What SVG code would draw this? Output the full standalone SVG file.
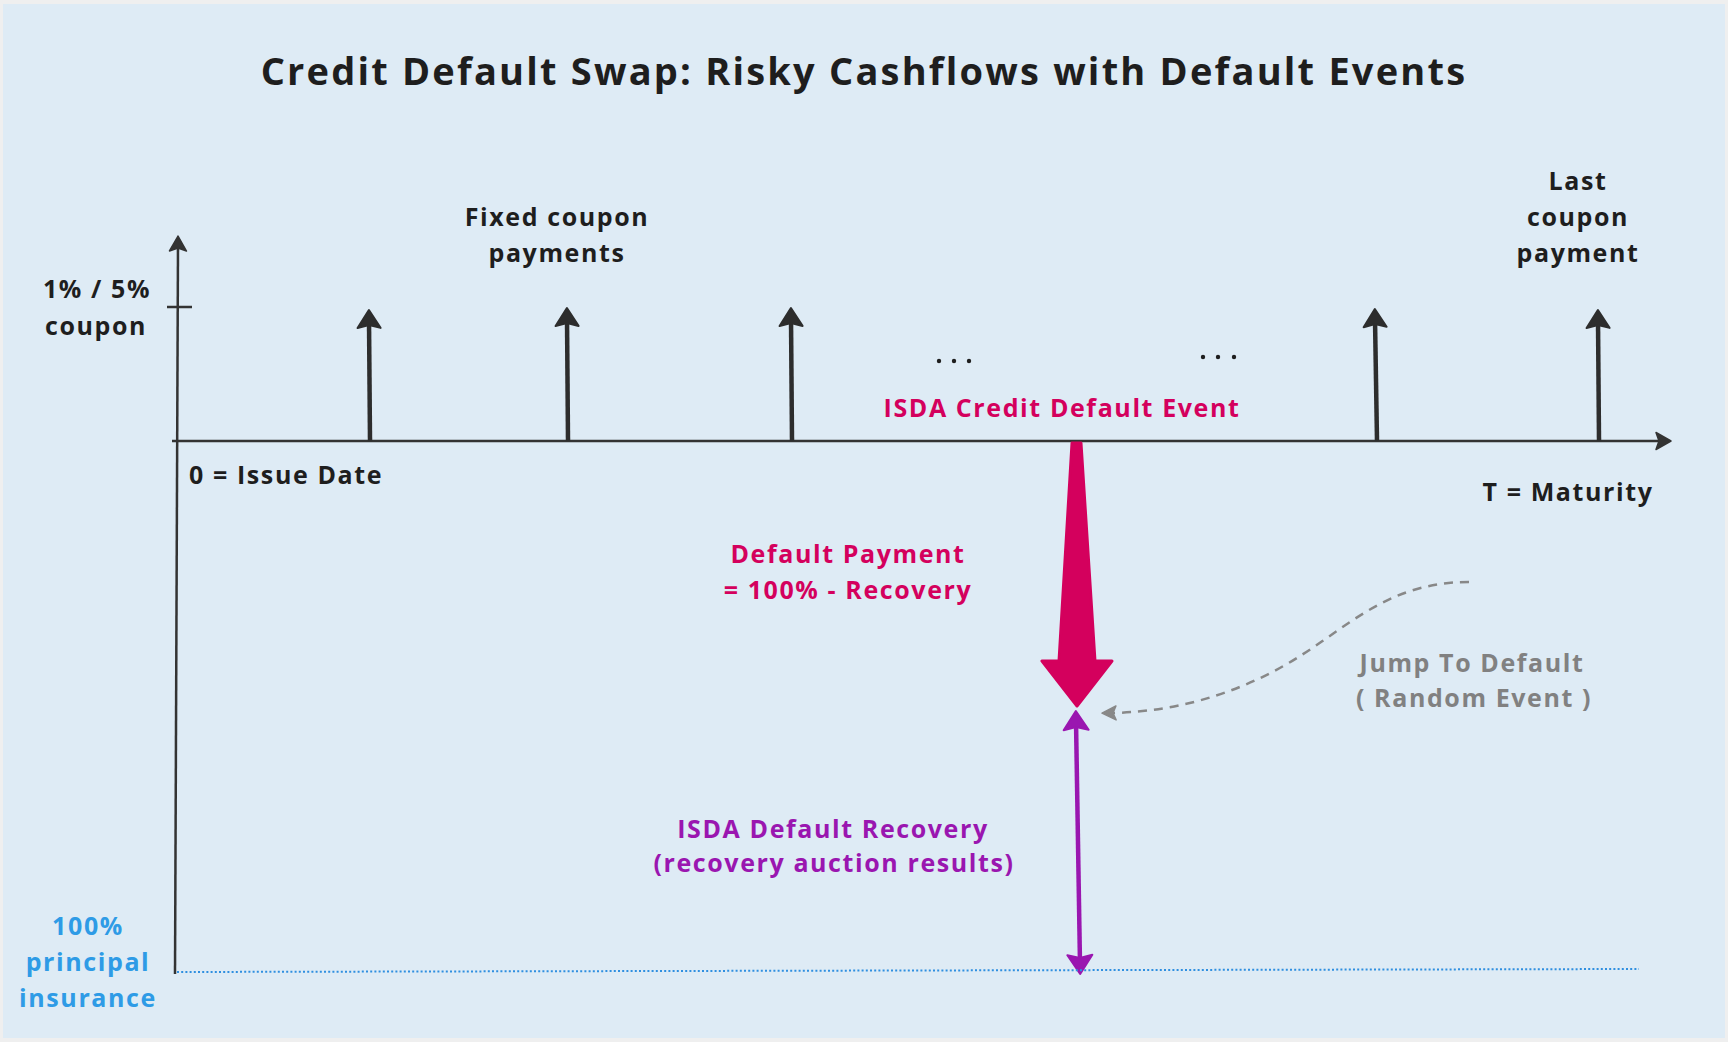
<svg xmlns="http://www.w3.org/2000/svg" width="1728" height="1042" viewBox="0 0 1728 1042">
<defs>
<style>
text{font-family:"Open Sans","Liberation Sans",sans-serif;font-weight:700;text-anchor:middle}
.t,.red,.pur,.gry,.blu{font-size:25px;letter-spacing:1.6px}
.t{fill:#1e1e1e}
.title{font-size:38px;fill:#1e1e1e;letter-spacing:2.2px}
.red{fill:#d4005d}
.pur{fill:#9a16b0}
.gry{fill:#818181}
.blu{fill:#2e9be6}
.axis{stroke:#333;stroke-width:2.5;fill:none}
.cp{stroke:#2d2d2d;stroke-width:4.5;fill:none}
</style>
<marker id="ah" viewBox="-8 -10 18 20" markerWidth="18" markerHeight="20" refX="0" refY="0" markerUnits="userSpaceOnUse" orient="auto">
<path d="M8,0 L-7,-8.5 L-4,0 L-7,8.5 Z" fill="#333" stroke="#333" stroke-width="1.5" stroke-linejoin="round"/>
</marker>
<marker id="ch" viewBox="-12 -14 24 28" markerWidth="24" markerHeight="28" refX="0" refY="0" markerUnits="userSpaceOnUse" orient="auto">
<path d="M10,0 L-8,-11.5 L-5,0 L-8,11.5 Z" fill="#2d2d2d" stroke="#2d2d2d" stroke-width="2" stroke-linejoin="round"/>
</marker>
<marker id="ph" viewBox="-12 -16 24 32" markerWidth="24" markerHeight="32" refX="0" refY="0" markerUnits="userSpaceOnUse" orient="auto-start-reverse">
<path d="M10,0 L-9,-12.5 L-6,0 L-9,12.5 Z" fill="#9a16b0" stroke="#9a16b0" stroke-width="2" stroke-linejoin="round"/>
</marker>
<marker id="gh" viewBox="-10 -10 20 20" markerWidth="20" markerHeight="20" refX="0" refY="0" markerUnits="userSpaceOnUse" orient="auto">
<path d="M8,0 L-6,-7 L-3,0 L-6,7 Z" fill="#888" stroke="#888" stroke-width="1.5" stroke-linejoin="round"/>
</marker>
</defs>
<rect x="0" y="0" width="1728" height="1042" fill="#efefef"/>
<rect x="3" y="4" width="1722" height="1034" fill="#deebf5"/>
<text class="title" x="864" y="85">Credit Default Swap: Risky Cashflows with Default Events</text>

<g id="axes">
<line class="axis" x1="175" y1="974" x2="178" y2="244" marker-end="url(#ah)"/>
<line class="axis" x1="172" y1="441" x2="1663" y2="441" marker-end="url(#ah)"/>
<line class="axis" x1="167" y1="307" x2="192" y2="307"/>
</g>

<g id="connectors">
<line class="cp" x1="370" y1="441" x2="369" y2="320" marker-end="url(#ch)"/>
<line class="cp" x1="568" y1="441" x2="567" y2="318" marker-end="url(#ch)"/>
<line class="cp" x1="792" y1="441" x2="791" y2="318" marker-end="url(#ch)"/>
<line class="cp" x1="1377" y1="441" x2="1375" y2="319" marker-end="url(#ch)"/>
<line class="cp" x1="1599" y1="441" x2="1598" y2="320" marker-end="url(#ch)"/>
<path d="M1072,443 L1081,443 L1095,661 L1112,661 L1077,706 L1042,661 L1059,661 Z" fill="#d4005d" stroke="#d4005d" stroke-width="3" stroke-linejoin="round"/>
<line x1="1076" y1="721" x2="1080" y2="964" stroke="#9a16b0" stroke-width="4.5" marker-start="url(#ph)" marker-end="url(#ph)"/>
<path d="M1469,582 C1390,582 1350,625 1300,656 C1250,688 1185,712 1110,713" fill="none" stroke="#888" stroke-width="2.5" stroke-dasharray="9 7" marker-end="url(#gh)"/>
<line x1="177" y1="972" x2="1639" y2="969" stroke="#2f8fe0" stroke-width="2" stroke-dasharray="2 2.2"/>
</g>

<g id="dots" fill="#1e1e1e">
<circle cx="939" cy="361" r="2.2"/><circle cx="954" cy="361" r="2.2"/><circle cx="969" cy="361" r="2.2"/>
<circle cx="1203" cy="357" r="2.2"/><circle cx="1218" cy="357" r="2.2"/><circle cx="1234" cy="357" r="2.2"/>
</g>

<g id="label-coupon-rate"><text class="t" x="97" y="298">1% / 5%</text><text class="t" x="96" y="335">coupon</text></g>
<g id="label-issue"><text class="t" x="286" y="484">0 = Issue Date</text></g>
<g id="label-fixed"><text class="t" x="557" y="226">Fixed coupon</text><text class="t" x="557" y="262">payments</text></g>
<g id="label-last"><text class="t" x="1578" y="190">Last</text><text class="t" x="1578" y="226">coupon</text><text class="t" x="1578" y="262">payment</text></g>
<g id="label-maturity"><text class="t" x="1568" y="501">T = Maturity</text></g>
<g id="label-event"><text class="red" x="1062" y="417">ISDA Credit Default Event</text></g>
<g id="label-payment"><text class="red" x="848" y="563">Default Payment</text><text class="red" x="848" y="599">= 100% - Recovery</text></g>
<g id="label-jump"><text class="gry" x="1472" y="672">Jump To Default</text><text class="gry" x="1474" y="707">( Random Event )</text></g>
<g id="label-recovery"><text class="pur" x="833" y="838">ISDA Default Recovery</text><text class="pur" x="834" y="872">(recovery auction results)</text></g>
<g id="label-principal"><text class="blu" x="88" y="935">100%</text><text class="blu" x="88" y="971">principal</text><text class="blu" x="88" y="1007">insurance</text></g>
</svg>
